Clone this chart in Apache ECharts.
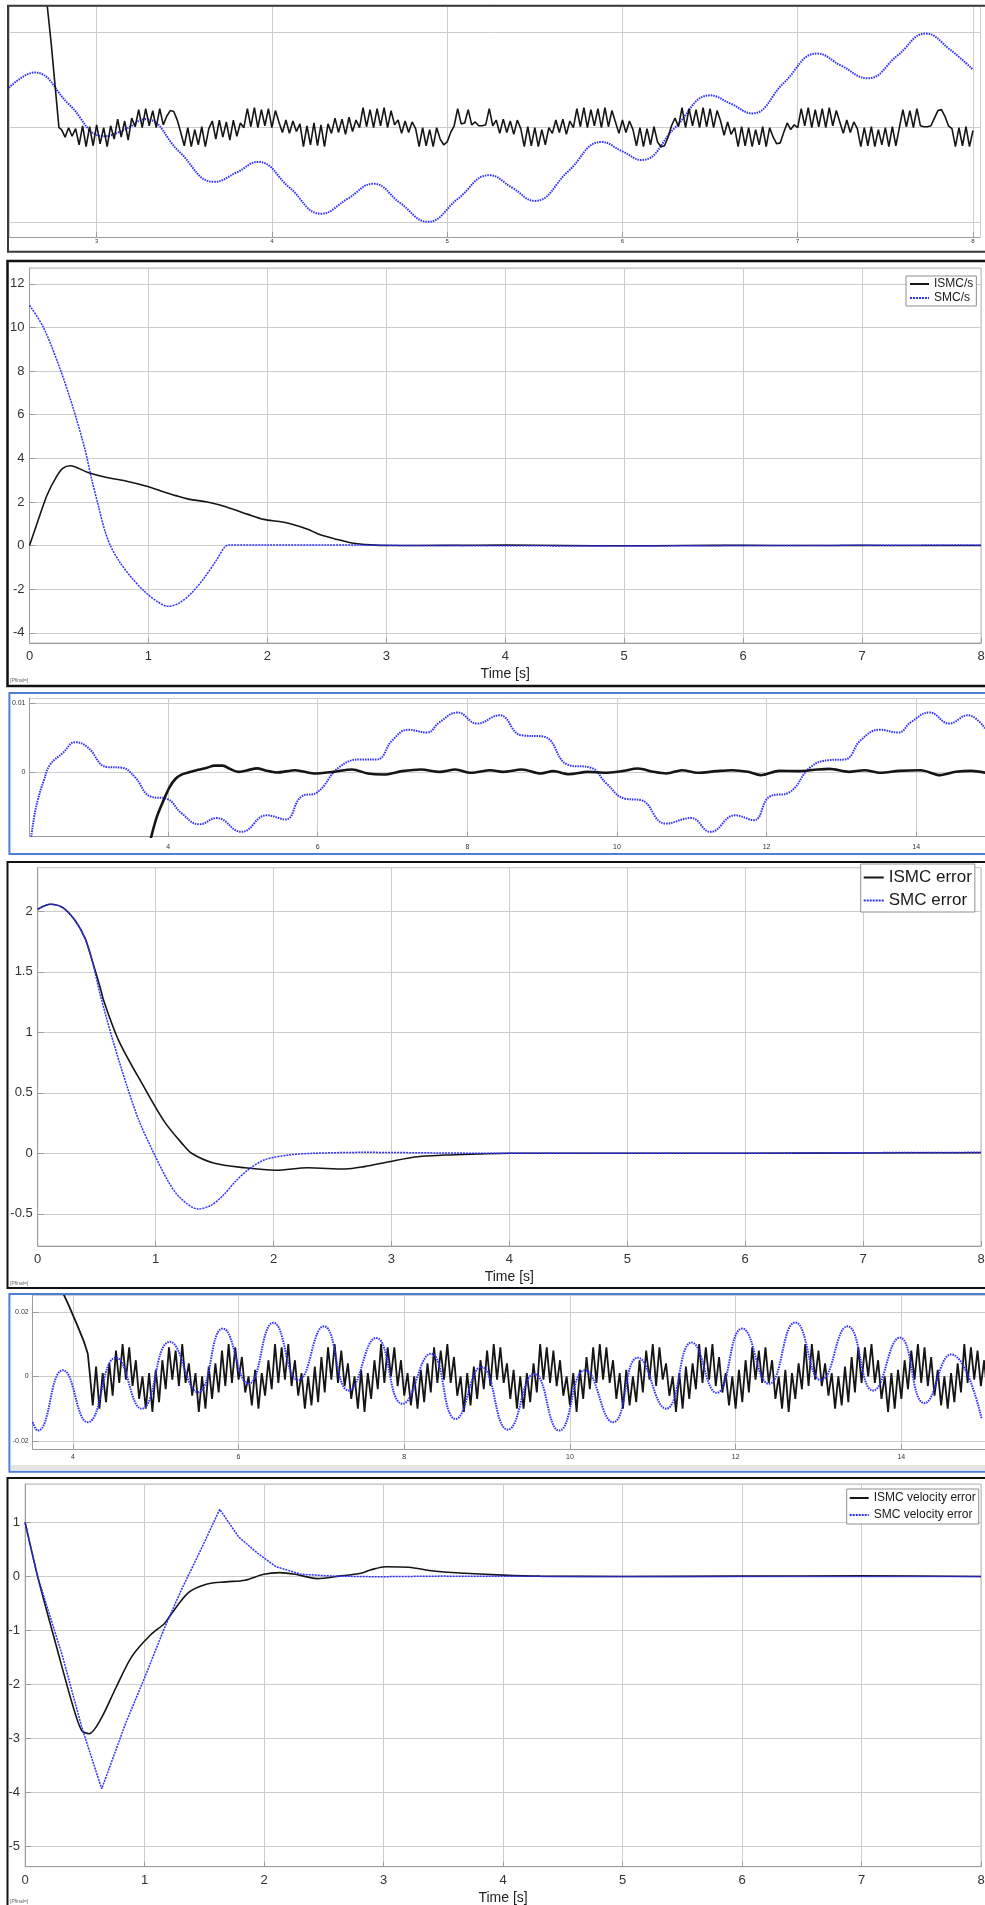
<!DOCTYPE html>
<html>
<head>
<meta charset="utf-8">
<script src="https://cdn.jsdelivr.net/npm/echarts@6/dist/echarts.min.js"></script>
<style>
html,body{margin:0;padding:0;background:#fff;overflow:hidden}
#main{width:985px;height:1905px}
</style>
</head>
<body>
<div id="main"></div>
<script>
// ---------- data ----------

// panel 1 : zoomed view, t = 2.5 .. 8
var p1SmcT = [2.50,2.646,2.84,3.04,3.16,3.28,3.47,3.67,3.80,3.92,4.10,4.28,4.43,4.58,4.73,4.89,5.06,5.24,5.37,5.50,5.69,5.88,6.00,6.11,6.30,6.50,6.62,6.74,6.92,7.11,7.25,7.40,7.57,7.73,7.87,8.00];
var p1SmcV = [0.42,0.58,0.25,-0.09,-0.02,0.09,-0.25,-0.57,-0.47,-0.36,-0.63,-0.905,-0.75,-0.59,-0.79,-0.99,-0.75,-0.50,-0.63,-0.77,-0.46,-0.15,-0.25,-0.34,0.00,0.34,0.25,0.15,0.47,0.78,0.65,0.52,0.76,0.99,0.82,0.61];
var p1IsmcHeadT = [2.70,2.74,2.785];
var p1IsmcHeadV = [1.6,0.9,0.0];
var p1ChatterStart = 2.80, p1ChatterStep = 0.02;
var p1Chatter = [
-0.02,-0.10,0.00,-0.09,-0.01,
-0.18,0.02,-0.20,0.01,-0.19,0.03,-0.17,0.00,-0.20,0.02,
-0.12,0.09,-0.10,0.07,-0.13,0.10,
0.01,0.19,0.00,0.20,0.02,0.18,0.00,0.20,0.03,
0.12,0.18,0.17,0.08,
-0.05,-0.19,0.00,-0.20,-0.02,-0.18,0.01,-0.20,-0.01,
0.07,-0.12,0.08,-0.10,0.06,-0.13,0.08,-0.09,0.05,
0.00,0.20,0.01,0.21,0.00,0.19,0.02,0.20,0.00,0.18,
0.06,-0.05,0.08,-0.06,0.07,-0.04,
0.04,-0.20,0.02,-0.18,0.05,-0.19,0.03,-0.20,0.04,
-0.06,0.10,-0.05,0.09,-0.07,0.11,-0.04,0.08,
0.00,0.21,0.01,0.19,0.00,0.20,0.02,0.21,0.00,0.18,0.03,
0.08,-0.06,0.07,-0.05,0.06,
-0.01,-0.20,0.00,-0.19,-0.02,-0.20,0.00,
-0.12,-0.18,-0.15,-0.05,
0.02,0.20,0.04,0.05,0.19,0.03,0.06,
0.02,0.02,0.03,0.20,0.02,
0.08,-0.06,0.09,-0.05,0.07,-0.07,0.08,
-0.01,-0.20,0.01,-0.19,0.00,-0.20,-0.02,-0.18,0.00,
-0.06,0.08,-0.05,0.09,-0.07,0.07,
0.00,0.20,0.01,0.21,0.00,0.19,0.02,0.20,0.00,0.21,0.01,0.18,
0.06,-0.06,0.08,-0.05,0.07,
-0.02,-0.19,0.00,-0.20,-0.01,-0.18,0.01,-0.15,-0.20,
-0.19,-0.10,0.02,0.10,
0.01,0.21,0.00,0.20,0.02,0.19,0.00,0.21,0.01,0.20,0.00,0.18,
0.07,-0.08,0.06,-0.07,
0.00,-0.20,0.01,-0.19,0.00,-0.20,-0.02,-0.18,0.01,-0.20,0.00,-0.10,-0.17,-0.16,-0.05,
0.05,-0.02,0.03,
0.00,0.20,0.02,0.21,0.00,0.19,0.01,0.20,0.00,0.21,0.02,0.18,
0.06,-0.06,0.08,-0.05,0.06,
-0.01,-0.20,0.00,-0.19,0.01,-0.20,-0.02,-0.18,0.00,-0.20,0.01,-0.19,0.00,
0.19,0.01,0.18,0.00,0.20,0.02,
0.01,0.01,0.02,
0.10,0.18,0.19,0.12,0.02,
-0.01,-0.20,0.00,-0.19,0.01,-0.20,-0.03
];

// panel 2 : sliding surface
var p2IsmcT = [0,0.069,0.148,0.227,0.28,0.343,0.491,0.649,0.808,0.993,1.125,1.23,1.336,1.494,1.60,1.705,1.837,1.969,2.101,2.207,2.339,2.445,2.577,2.709,2.867,3.025,3.5,4.0,4.5,5.0,5.5,6.0,6.5,7.0,7.5,8.0];
var p2IsmcV = [0,1.1,2.32,3.16,3.54,3.66,3.35,3.12,2.96,2.71,2.47,2.29,2.13,2.0,1.86,1.68,1.43,1.2,1.1,0.98,0.75,0.49,0.29,0.12,0.03,0.0,0.01,0.02,0.0,-0.01,0.0,0.01,0.0,0.01,0.0,0.0];
var p2SmcT = [0,0.116,0.256,0.368,0.467,0.52,0.58,0.63,0.68,0.755,0.861,0.966,1.072,1.167,1.257,1.362,1.468,1.573,1.642,1.679,2.0,2.5,3.0,4.0,5.0,6.0,7.0,8.0];
var p2SmcV = [11.02,10.02,8.12,6.29,4.4,3.1,1.8,0.75,0.0,-0.73,-1.49,-2.10,-2.56,-2.79,-2.64,-2.18,-1.49,-0.66,-0.06,0.03,0.03,0.03,0.01,-0.01,-0.02,0.0,0.01,0.03];

// panel 3 : zoomed error, values x 1e-3
var p3SmcT = [2.17,2.21,2.257,2.34,2.42,2.59,2.76,2.92,3.18,3.38,3.55,3.77,3.98,4.18,4.42,4.65,4.98,5.32,5.57,5.78,5.99,6.29,6.58,6.79,7.0,7.21,7.46,7.63,7.87,8.13,8.43,8.72,9.02,9.35,9.65,9.86,10.11,10.32,10.65,10.99,11.25,11.58,11.83,12.04,12.3,12.59,12.84,13.05,13.26,13.51,13.76,13.93,14.18,14.44,14.69,14.92];
var p3SmcV = [-9.4,-6.5,-4.1,-1.2,1.0,2.7,4.3,3.6,0.7,0.6,-0.7,-3.6,-3.9,-6.0,-7.6,-6.7,-8.7,-6.3,-6.9,-3.6,-3.0,0.7,1.8,1.8,4.6,6.1,5.7,7.2,8.6,7.0,8.2,5.3,5.1,1.0,0.6,-1.7,-3.9,-4.1,-7.5,-6.7,-8.7,-6.3,-7.0,-3.6,-3.0,0.7,1.7,1.8,4.6,6.1,5.7,7.2,8.6,7.0,8.2,6.3];
var p3IsmcT = [3.76,3.85,3.94,4.02,4.10,4.18,4.27,4.40,4.52,4.62,4.73,4.83,4.94,5.05,5.19,5.30,5.45,5.70,5.95,6.21,6.46,6.67,6.88,7.13,7.38,7.63,7.84,8.05,8.31,8.47,8.73,8.98,9.15,9.36,9.61,9.82,10.07,10.28,10.49,10.66,10.87,11.08,11.33,11.54,11.75,11.92,12.17,12.42,12.68,12.84,13.10,13.31,13.52,13.77,14.06,14.32,14.53,14.74,14.93];
var p3IsmcV = [-10.0,-6.5,-4.1,-2.2,-1.0,-0.4,-0.1,0.3,0.6,0.9,0.9,0.4,0.0,0.2,0.5,0.2,-0.1,0.24,-0.24,0,0.34,-0.24,-0.39,0.1,0.34,0,0.34,-0.14,0.24,0,0.34,-0.24,0.1,-0.34,0,-0.14,0.1,0.48,0,-0.24,0.24,-0.14,0.1,0.24,0,-0.48,0.14,0.1,0.34,0.43,0,0.24,-0.14,0.14,0.24,-0.48,0,0.14,-0.14];

// panel 4 : position error
var p4IsmcT = [0,0.107,0.213,0.32,0.40,0.46,0.533,0.56,0.69,0.906,1.076,1.225,1.305,1.49,1.76,2.02,2.29,2.61,2.77,2.98,3.2,3.46,3.73,4.0,5,6,7,8];
var p4IsmcV = [2.017,2.058,2.03,1.92,1.78,1.60,1.36,1.26,0.925,0.54,0.26,0.08,0.0,-0.08,-0.12,-0.14,-0.12,-0.13,-0.11,-0.07,-0.03,-0.014,-0.006,0,0,0,0.003,0.005];
var p4SmcT = [0,0.107,0.213,0.32,0.40,0.46,0.533,0.64,0.762,0.863,0.985,1.10,1.20,1.36,1.47,1.57,1.68,1.78,1.92,2.13,2.34,2.77,3.41,3.94,5,6,7,8];
var p4SmcV = [2.017,2.058,2.03,1.92,1.78,1.60,1.30,0.925,0.54,0.26,0.0,-0.22,-0.36,-0.46,-0.43,-0.35,-0.23,-0.14,-0.055,-0.014,0,0.008,0.003,0,0,0,0.005,0.008];

// panel 5 : zoomed velocity error, values x 1e-3
var p5SmcT = [3.515,3.575,3.88,4.18,4.52,4.83,5.17,5.51,5.81,6.12,6.42,6.72,7.03,7.33,7.66,7.98,8.32,8.62,8.93,9.25,9.57,9.87,10.18,10.52,10.82,11.16,11.47,11.77,12.08,12.4,12.72,13.03,13.35,13.66,13.98,14.28,14.6,14.97];
var p5SmcV = [-14.2,-16.8,1.9,-14.2,5.8,-10.0,10.7,-4.9,14.8,-2.3,16.6,-1.2,15.5,-4.4,11.9,-8.5,7.0,-13.2,2.9,-16.5,0.8,-16.8,1.9,-14.2,5.8,-10.0,10.5,-5.1,14.8,-2.3,16.7,-1.2,15.5,-4.4,12.0,-8.3,6.8,-13.2];
var p5IsmcHeadT = [3.86,3.95,4.05,4.13,4.18];
var p5IsmcHeadV = [27,22,16,11,7];
var p5ChatterStart = 4.20, p5ChatterStep = 0.04;
var p5Chatter = [
2,-9,3,-10,1,-8,4,-6,8,-2,10,-1,9,-3,5,-7,
0,-10,1,-11,2,-8,5,-4,9,-1,8,-3,10,-2,4,-6,
1,-11,0,-10,3,-7,4,-5,8,-3,10,-2,9,-1,6,-5,
0,-9,2,-10,1,-6,5,-4,10,-2,9,-1,10,-3,5,-6,
1,-10,0,-9,3,-8,6,-5,9,-1,10,-2,8,-3,4,-7,
0,-10,2,-11,1,-7,5,-4,10,-2,9,0,9,-3,5,-6,
1,-9,0,-10,2,-8,4,-5,9,-2,8,-1,10,-2,6,-6,
0,-11,1,-9,3,-7,5,-4,8,-3,10,-1,9,-2,4,-7,
2,-10,0,-10,1,-8,4,-5,10,-1,9,-2,8,-3,5,-6,
0,-9,1,-11,2,-7,6,-4,9,-2,10,-1,9,-2,5,-7,
1,-10,2,-9,0,-8,5,-5,8,-1,10,-3,9,-1,4,-6,
0,-11,1,-10,3,-7,4,-4,10,-2,9,-1,10,-3,6,-5,
1,-9,0,-10,2,-8,5,-5,9,-1,8,-2,9,-2,5,-7,
0,-10,2,-11,1,-7,4,-4,10,-3,10,-1,8,-3,4,-6,
1,-10,0,-9,3,-8,6,-5,9,-2,9,0,10,-2,5,-7,
0,-11,1,-10,2,-7,5,-4,8,-1,10,-2,9,-3,6,-6,
2,-9,0,-10,1,-8,4,-5,10,-2,9,-1,8,-3,5,-6
];

// panel 6 : velocity error
var p6IsmcT = [0,0.105,0.263,0.394,0.473,0.536,0.631,0.762,0.894,1.051,1.167,1.209,1.367,1.524,1.682,1.84,1.997,2.129,2.26,2.444,2.628,2.81,2.89,3.02,3.21,3.42,3.68,4.0,4.31,5,6,7,8];
var p6IsmcV = [1.0,0,-1.30,-2.35,-2.85,-2.91,-2.65,-2.05,-1.48,-1.08,-0.87,-0.74,-0.30,-0.14,-0.10,-0.07,0.04,0.07,0.04,-0.04,0.006,0.06,0.12,0.18,0.17,0.10,0.06,0.025,0.006,0,0.005,0.01,0];
var p6SmcT = [0,0.105,0.315,0.473,0.641,0.841,0.999,1.167,1.314,1.472,1.629,1.787,1.945,2.10,2.31,2.58,2.94,3.47,4.5,5.5,6.5,8];
var p6SmcV = [1.0,0,-1.49,-2.78,-3.93,-2.72,-1.88,-0.95,-0.22,0.50,1.24,0.73,0.43,0.18,0.04,0.006,-0.006,0.006,0,0,0,0];

// ---------- helpers ----------
var FONT = '"Liberation Sans", Arial, sans-serif';
var BLUE = '#2f2fff';
var BLACK = '#151515';

function pairs(t, v, k) {
    k = k || 1;
    return t.map(function (x, i) { return [x, v[i] * k]; });
}
function sampled(t0, dt, v, k) {
    k = k || 1;
    return v.map(function (y, i) { return [+(t0 + i * dt).toFixed(4), y * k]; });
}

function xAxis(gi, min, max, o) {
    return {
        type: 'value', gridIndex: gi, min: min, max: max,
        interval: o.interval, splitNumber: o.split,
        axisLine: { show: true, onZero: false, lineStyle: { color: '#9c9c9c', width: 1 } },
        axisTick: { show: true, inside: true, length: 5, lineStyle: { color: '#9c9c9c' } },
        axisLabel: { fontSize: o.fs, color: '#333', margin: o.margin, fontFamily: FONT,
                     showMinLabel: o.showMin, showMaxLabel: o.showMax },
        splitLine: { show: true, lineStyle: { color: '#cdcdcd', width: 1 } },
        name: o.name || '', nameLocation: 'middle', nameGap: 24,
        nameTextStyle: { fontSize: 14, color: '#222', fontFamily: FONT }
    };
}
function yAxis(gi, min, max, o) {
    return {
        type: 'value', gridIndex: gi, min: min, max: max, splitNumber: o.split,
        axisLine: { show: o.line !== false, lineStyle: { color: '#9c9c9c', width: 1 } },
        axisTick: { show: o.label !== false, inside: true, length: 6, lineStyle: { color: '#9c9c9c' } },
        axisLabel: { show: o.label !== false, fontSize: o.fs, color: '#333', margin: o.margin,
                     fontFamily: FONT, showMinLabel: false, showMaxLabel: false },
        splitLine: { show: true, lineStyle: { color: '#cdcdcd', width: 1 } }
    };
}
function line(name, idx, data, color, width, type, smooth) {
    return {
        name: name, type: 'line', xAxisIndex: idx, yAxisIndex: idx, data: data,
        symbol: 'none', smooth: smooth || false, clip: true,
        lineStyle: { color: color, width: width, type: type || 'solid' },
        itemStyle: { color: color }
    };
}
function legend(names, left, top, fs, iw, ih, gap, pad) {
    return {
        data: names, orient: 'vertical', left: left, top: top,
        itemWidth: iw, itemHeight: ih, itemGap: gap, padding: pad,
        borderColor: '#8f8f8f', borderWidth: 1, borderRadius: 0, backgroundColor: '#fff',
        selectedMode: false,
        itemStyle: { opacity: 0 },
        textStyle: { fontSize: fs, color: '#1a1a1a', fontFamily: FONT }
    };
}
function frame(x, y, w, h, color, lw) {
    return { type: 'rect', silent: true, z: 100,
             shape: { x: x, y: y, width: w, height: h },
             style: { fill: 'none', stroke: color, lineWidth: lw } };
}
function tag(x, y) {
    return { type: 'text', silent: true, x: x, y: y,
             style: { text: '[Pfinal=]', fontSize: 5, fill: '#666', fontFamily: FONT } };
}

// ---------- chart ----------
var myChart = echarts.init(document.getElementById('main'));

var option = {
    animation: false,
    backgroundColor: '#fff',
    grid: [
        { left: 9,    top: 6,     width: 971,   height: 231,   outerBoundsMode: 'none' },
        { left: 29.5, top: 268,   width: 951.5, height: 375,   outerBoundsMode: 'none', show: true, borderColor: '#bdbdbd', borderWidth: 1 },
        { left: 29.5, top: 698,   width: 955.5, height: 138.7, outerBoundsMode: 'none' },
        { left: 37.7, top: 867.7, width: 943.3, height: 378.3, outerBoundsMode: 'none', show: true, borderColor: '#bdbdbd', borderWidth: 1 },
        { left: 32.7, top: 1295,  width: 952.3, height: 154,   outerBoundsMode: 'none' },
        { left: 25.1, top: 1484,  width: 955.9, height: 382.7, outerBoundsMode: 'none', show: true, borderColor: '#bdbdbd', borderWidth: 1 }
    ],
    xAxis: [
        xAxis(0, 2.5, 8.04, { split: 5, fs: 6, margin: 1, showMin: false, showMax: false }),
        xAxis(1, 0, 8, { interval: 1, fs: 13, margin: 7, showMin: true, showMax: true, name: 'Time [s]' }),
        xAxis(2, 2.147, 14.92, { split: 6, fs: 7, margin: 7, showMin: false, showMax: false }),
        xAxis(3, 0, 8, { interval: 1, fs: 13, margin: 7, showMin: true, showMax: true, name: 'Time [s]' }),
        xAxis(4, 3.515, 15.01, { split: 6, fs: 7, margin: 5, showMin: false, showMax: false }),
        xAxis(5, 0, 8, { interval: 1, fs: 13, margin: 7, showMin: true, showMax: true, name: 'Time [s]' })
    ],
    yAxis: [
        yAxis(0, -1.15, 1.28, { split: 2, label: false, line: false }),
        yAxis(1, -4.47, 12.73, { split: 8, fs: 13, margin: 5 }),
        yAxis(2, -0.0094, 0.0107, { split: 2, fs: 7, margin: 4 }),
        yAxis(3, -0.766, 2.36, { split: 6, fs: 13, margin: 5 }),
        yAxis(4, -0.0225, 0.0252, { split: 2, fs: 7, margin: 4 }),
        yAxis(5, -5.37, 1.71, { split: 7, fs: 13, margin: 5 })
    ],
    legend: [
        legend(['ISMC/s', 'SMC/s'], 906, 276, 12, 19, 12, 2, [2, 3, 2, 3]),
        legend(['ISMC error', 'SMC error'], 860.7, 864, 17, 20, 14, 6, [5, 3, 3, 2]),
        legend(['ISMC velocity error', 'SMC velocity error'], 846.7, 1489, 12, 19, 14, 5, [3, 3, 3, 2])
    ],
    series: [
        line('zoom SMC s', 0, pairs(p1SmcT, p1SmcV), BLUE, 2, [1.5, 1], 0.45),
        line('zoom ISMC s', 0, pairs(p1IsmcHeadT, p1IsmcHeadV).concat(sampled(p1ChatterStart, p1ChatterStep, p1Chatter)), BLACK, 1.6),

        line('ISMC/s', 1, pairs(p2IsmcT, p2IsmcV), BLACK, 1.6, 'solid', 0.3),
        line('SMC/s', 1, pairs(p2SmcT, p2SmcV), BLUE, 1.5, [2, 1], 0.3),

        line('zoom SMC error', 2, pairs(p3SmcT, p3SmcV, 1e-3), BLUE, 2, [1.5, 1], 0.45),
        line('zoom ISMC error', 2, pairs(p3IsmcT, p3IsmcV, 1e-3), BLACK, 2.6, 'solid', 0.3),

        line('ISMC error', 3, pairs(p4IsmcT, p4IsmcV), BLACK, 1.6, 'solid', 0.3),
        line('SMC error', 3, pairs(p4SmcT, p4SmcV), BLUE, 1.5, [2, 1], 0.3),

        line('zoom ISMC velocity', 4, pairs(p5IsmcHeadT, p5IsmcHeadV, 1e-3).concat(sampled(p5ChatterStart, p5ChatterStep, p5Chatter, 1e-3)), BLACK, 1.8),
        line('zoom SMC velocity', 4, pairs(p5SmcT, p5SmcV, 1e-3), BLUE, 2, [1.5, 1], 0.5),

        line('ISMC velocity error', 5, pairs(p6IsmcT, p6IsmcV), BLACK, 1.6, 'solid', 0.3),
        line('SMC velocity error', 5, pairs(p6SmcT, p6SmcV), BLUE, 1.5, [2, 1], false)
    ],
    graphic: [
        frame(8, 5.7, 990, 246, '#3a3a3a', 2),
        frame(7.5, 261, 990, 425, '#111', 2.5),
        frame(9.4, 693, 990, 161, '#4d7fd4', 2),
        frame(7.5, 862, 990, 426, '#111', 2),
        { type: 'rect', silent: true, z: 90, shape: { x: 11, y: 1465, width: 975, height: 5 }, style: { fill: '#e4e4e4' } },
        frame(9.4, 1294, 990, 177.7, '#4d7fd4', 2),
        frame(7.5, 1478, 990, 500, '#111', 2),
        tag(10, 678),
        tag(10, 1281),
        tag(10, 1899)
    ]
};

myChart.setOption(option);
</script>
</body>
</html>
